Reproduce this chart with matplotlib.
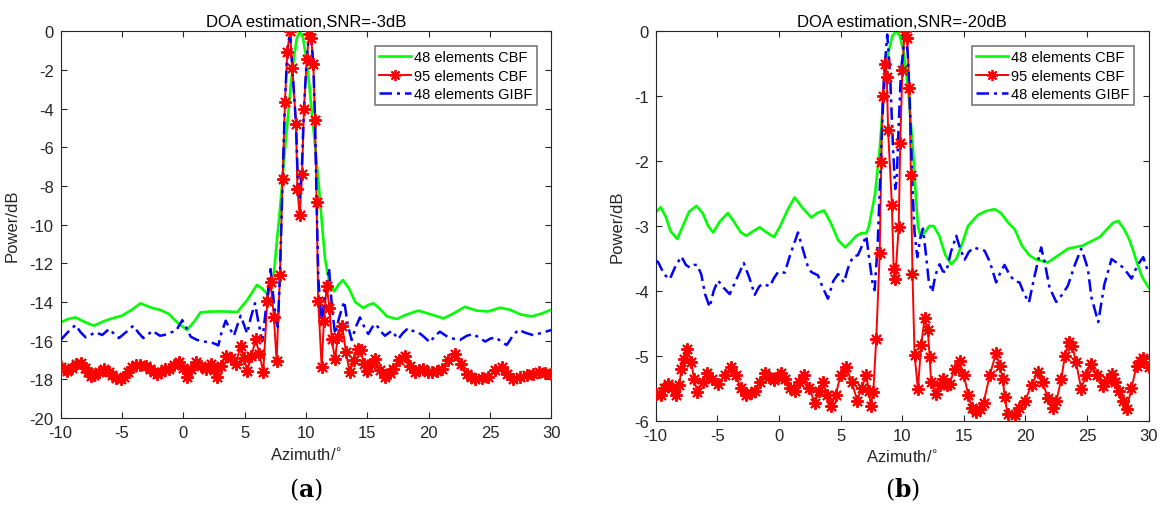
import matplotlib
matplotlib.use("Agg")
import matplotlib.pyplot as plt
from matplotlib.lines import Line2D

plt.rcParams['font.family'] = ['Liberation Sans', 'DejaVu Sans']
plt.rcParams['axes.unicode_minus'] = False

# ---------------- SNR = -3 dB ----------------
cbf48_az_a = [-10, -9.4, -8.8, -8.0, -7.3, -6.5, -5.8, -5.0, -4.2, -3.5,
              -2.6, -1.85, -1.2, -0.5, 0.3, 0.9, 1.4, 2.2, 3.0, 3.7,
              4.4, 5.2, 6.0, 6.4, 6.85, 7.1, 7.35, 7.6, 7.8, 8.0,
              8.25, 8.5, 8.75, 9.0, 9.25, 9.5, 9.75, 10.0, 10.25, 10.5,
              10.75, 11.05, 11.3, 11.55, 11.9, 12.3, 12.65, 13.0, 13.5, 14.0,
              14.65, 15.1, 15.5, 16.0, 16.6, 17.4, 18.2, 19.15, 20.2, 21.2,
              22.0, 22.95, 23.9, 24.85, 25.8, 26.6, 27.5, 28.4, 29.2, 30.0]
cbf48_db_a = [-15.06, -14.88, -14.80, -15.05, -15.23, -15.0, -14.85, -14.71, -14.4, -14.07,
              -14.3, -14.42, -14.62, -15.06, -15.45, -15.0, -14.54, -14.5, -14.49, -14.5,
              -14.52, -13.9, -13.12, -13.3, -13.59, -13.3, -12.7, -11.0, -9.7, -8.3,
              -6.3, -4.6, -2.8, -1.4, -0.35, 0.0, -0.35, -1.3, -2.7, -4.4,
              -6.0, -8.05, -10.0, -11.8, -13.0, -13.45, -13.1, -12.87, -13.3, -14.0,
              -14.31, -14.15, -14.07, -14.35, -14.75, -14.88, -14.65, -14.45, -14.65, -14.85,
              -14.6, -14.25, -14.45, -14.49, -14.3, -14.4, -14.65, -14.75, -14.6, -14.4]

cbf95_az_a = [-10.0, -9.7, -9.45, -9.1, -8.75, -8.37, -8.0, -7.8, -7.56, -7.25,
              -6.9, -6.47, -6.1, -5.8, -5.45, -5.11, -4.8, -4.5, -4.2, -3.89,
              -3.5, -3.07, -2.7, -2.4, -2.13, -1.8, -1.5, -1.17, -0.75, -0.36,
              0.0, 0.32, 0.65, 1.0, 1.4, 1.82, 2.22, 2.5, 2.76, 3.1,
              3.45, 3.85, 4.26, 4.67, 4.95, 5.21, 5.55, 5.89, 6.2, 6.51,
              6.84, 7.11, 7.38, 7.6, 7.87, 8.09, 8.28, 8.47, 8.69, 8.88,
              9.18, 9.29, 9.48, 9.67, 9.83, 10.05, 10.26, 10.42, 10.59, 10.73,
              10.86, 10.99, 11.27, 11.45, 11.68, 11.9, 12.09, 12.35, 12.6, 12.95,
              13.25, 13.55, 13.9, 14.2, 14.45, 14.7, 14.94, 15.3, 15.62, 16.0,
              16.43, 16.8, 17.11, 17.6, 18.06, 18.5, 18.88, 19.2, 19.55, 19.9,
              20.24, 20.65, 21.05, 21.6, 22.14, 22.6, 23.09, 23.45, 23.77, 24.3,
              24.85, 25.4, 25.94, 26.4, 26.89, 27.4, 28.0, 28.52, 29.0, 29.5,
              30.0]
cbf95_db_a = [-17.38, -17.45, -17.56, -17.4, -17.22, -17.18, -17.4, -17.65, -17.82, -17.78,
              -17.6, -17.47, -17.6, -17.8, -17.95, -17.99, -17.9, -17.6, -17.35, -17.26,
              -17.24, -17.3, -17.45, -17.65, -17.73, -17.6, -17.45, -17.45, -17.25, -17.12,
              -17.4, -17.9, -17.45, -17.12, -17.3, -17.47, -17.21, -17.5, -17.9, -17.3,
              -16.78, -16.9, -17.21, -16.26, -16.9, -17.56, -16.8, -15.92, -16.7, -17.64,
              -13.94, -12.99, -14.8, -17.05, -12.62, -7.62, -3.66, -1.07, 0.0, -1.88,
              -4.78, -8.14, -9.52, -7.37, -4.0, -1.45, -0.12, -0.35, -1.68, -4.6,
              -8.83, -13.94, -17.38, -15.0, -13.16, -14.3, -15.92, -16.95, -15.8, -15.23,
              -16.6, -17.64, -17.0, -16.45, -16.5, -17.2, -17.56, -17.2, -16.95, -17.5,
              -17.9, -17.7, -17.47, -17.0, -16.78, -17.3, -17.64, -17.5, -17.47, -17.6,
              -17.64, -17.55, -17.47, -17.0, -16.69, -17.2, -17.73, -17.9, -17.99, -17.95,
              -17.9, -17.5, -17.38, -17.75, -17.99, -17.9, -17.8, -17.72, -17.65, -17.7,
              -17.72]

gibf48_az_a = [-10, -9.4, -8.78, -8.4, -7.97, -7.55, -7.15, -6.61, -6.06, -5.65,
               -5.25, -4.65, -4.08, -3.65, -3.27, -2.9, -2.53, -1.91, -1.5, -1.17,
               -0.6, -0.09, 0.3, 0.6, 1.13, 1.5, 1.95, 2.3, 2.63, 2.85,
               3.1, 3.45, 3.8, 4.12, 4.4, 4.67, 4.95, 5.2, 5.5, 5.84,
               6.1, 6.43, 6.7, 7.11, 7.4, 7.7, 7.87, 8.09, 8.28, 8.47,
               8.69, 8.88, 9.18, 9.32, 9.48, 9.65, 9.83, 10.05, 10.26, 10.42,
               10.59, 10.73, 10.86, 11.0, 11.27, 11.55, 11.87, 12.1, 12.36, 12.7,
               13.11, 13.4, 13.72, 14.05, 14.39, 14.75, 15.07, 15.4, 15.7, 16.05,
               16.43, 16.98, 17.51, 17.9, 18.33, 18.7, 19.15, 19.6, 20.1, 20.5,
               20.91, 21.59, 22.0, 22.54, 23.1, 23.63, 24.1, 24.6, 25.0, 25.45,
               25.9, 26.35, 26.8, 27.29, 27.9, 28.52, 29.2, 30.0]
gibf48_db_a = [-15.97, -15.55, -15.19, -15.55, -15.83, -15.7, -15.57, -15.71, -15.40, -15.65,
               -15.87, -15.55, -15.23, -15.6, -15.87, -15.7, -15.49, -15.75, -15.7, -15.6,
               -15.5, -14.94, -15.4, -15.80, -15.97, -16.0, -16.09, -16.1, -16.18, -16.25,
               -15.6, -14.97, -15.4, -15.75, -15.2, -14.71, -15.2, -15.63, -14.8, -14.07,
               -15.0, -16.04, -14.5, -12.30, -14.2, -15.3, -12.62, -7.62, -3.66, -1.07,
               0.0, -1.88, -4.78, -7.5, -8.7, -7.2, -4.0, -1.45, 0.0, -0.35,
               -1.68, -4.6, -8.83, -12.8, -15.14, -13.5, -12.25, -14.2, -15.66, -14.8,
               -13.97, -15.2, -15.97, -15.3, -14.80, -15.3, -15.66, -15.3, -15.14, -15.5,
               -15.75, -15.49, -15.92, -15.6, -15.35, -15.5, -15.57, -15.8, -16.09, -15.75,
               -15.54, -15.83, -15.9, -15.97, -15.75, -15.66, -15.85, -16.05, -15.9, -15.83,
               -16.05, -16.23, -15.8, -15.44, -15.6, -15.72, -15.6, -15.45]

# ---------------- SNR = -20 dB ----------------
cbf48_az_b = [-10, -9.6, -9.2, -8.8, -8.25, -7.8, -7.3, -6.7, -6.2, -5.75,
              -5.35, -4.8, -4.15, -3.6, -3.1, -2.65, -2.1, -1.57, -1.0, -0.41,
              0.1, 0.7, 1.27, 1.9, 2.62, 3.1, 3.65, 4.2, 4.8, 5.38,
              5.8, 6.27, 6.7, 7.08, 7.3, 7.55, 7.8, 8.17, 8.5, 8.85,
              9.2, 9.5, 9.8, 10.15, 10.5, 10.87, 11.05, 11.27, 11.5, 11.9,
              12.2, 12.55, 13.0, 13.5, 13.97, 14.4, 14.9, 15.33, 16.14, 16.8,
              17.49, 18.0, 18.6, 19.12, 19.7, 20.3, 20.9, 21.82, 22.3, 22.9,
              23.44, 24.2, 24.68, 25.06, 25.5, 26.03, 26.6, 27.1, 27.52, 28.0,
              28.4, 28.74, 29.1, 29.5, 30.0]
cbf48_db_b = [-2.79, -2.71, -2.85, -3.08, -3.20, -3.0, -2.78, -2.69, -2.8, -3.0,
              -3.10, -2.93, -2.80, -2.95, -3.1, -3.15, -3.08, -3.02, -3.1, -3.17,
              -3.0, -2.75, -2.56, -2.72, -2.87, -2.8, -2.76, -2.95, -3.22, -3.33,
              -3.25, -3.15, -3.11, -3.11, -3.0, -2.75, -2.5, -1.81, -0.95, -0.35,
              -0.07, 0.0, -0.07, -0.35, -0.95, -1.81, -2.4, -3.0, -3.17, -3.08,
              -3.0, -3.0, -3.15, -3.45, -3.59, -3.5, -3.25, -3.0, -2.83, -2.77,
              -2.74, -2.8, -2.95, -3.05, -3.3, -3.45, -3.52, -3.56, -3.5, -3.42,
              -3.35, -3.32, -3.30, -3.26, -3.22, -3.17, -3.05, -2.95, -2.92, -3.05,
              -3.2, -3.38, -3.6, -3.8, -3.95]

cbf95_az_b = [-10.0, -9.6, -9.3, -9.0, -8.65, -8.33, -8.1, -7.92, -7.7, -7.43,
              -7.11, -6.9, -6.63, -6.2, -5.81, -5.4, -4.95, -4.4, -3.87, -3.5,
              -3.1, -2.65, -2.3, -1.97, -1.55, -1.16, -0.8, -0.41, -0.1, 0.19,
              0.5, 0.9, 1.27, 1.65, 2.03, 2.45, 2.9, 3.25, 3.57, 3.9,
              4.24, 4.6, 5.0, 5.46, 5.9, 6.35, 6.7, 7.08, 7.3, 7.44,
              7.65, 7.89, 8.17, 8.3, 8.4, 8.63, 8.75, 8.85, 9.16, 9.3,
              9.43, 9.71, 9.84, 10.01, 10.19, 10.4, 10.58, 10.7, 10.83, 11.0,
              11.27, 11.54, 11.82, 12.08, 12.22, 12.35, 12.76, 13.05, 13.3, 13.6,
              13.84, 14.25, 14.65, 15.0, 15.35, 15.65, 16.0, 16.3, 16.6, 17.1,
              17.62, 17.9, 18.17, 18.3, 18.57, 19.12, 19.5, 19.93, 20.5, 21.0,
              21.4, 21.8, 22.2, 22.5, 22.9, 23.2, 23.5, 23.8, 24.1, 24.52,
              24.9, 25.3, 25.8, 26.3, 26.65, 26.98, 27.3, 27.6, 27.9, 28.2,
              28.6, 29.01, 29.3, 29.55, 30.0]
cbf95_db_b = [-5.59, -5.61, -5.5, -5.43, -5.5, -5.61, -5.45, -5.21, -5.05, -4.90,
              -5.10, -5.35, -5.56, -5.4, -5.27, -5.35, -5.43, -5.3, -5.18, -5.3,
              -5.5, -5.61, -5.58, -5.55, -5.4, -5.27, -5.32, -5.38, -5.32, -5.27,
              -5.35, -5.5, -5.55, -5.4, -5.29, -5.5, -5.72, -5.55, -5.40, -5.6,
              -5.77, -5.6, -5.3, -5.18, -5.4, -5.69, -5.5, -5.29, -5.55, -5.77,
              -5.56, -4.74, -3.42, -2.02, -0.99, -0.5, -0.71, -1.52, -2.68, -3.66,
              -3.82, -3.02, -1.72, -0.59, 0.0, -0.11, -0.88, -2.21, -3.74, -4.99,
              -5.51, -4.83, -4.41, -4.61, -5.02, -5.41, -5.59, -5.45, -5.36, -5.45,
              -5.43, -5.2, -5.08, -5.3, -5.6, -5.8, -5.87, -5.82, -5.72, -5.3,
              -4.95, -5.15, -5.36, -5.64, -5.90, -5.91, -5.8, -5.70, -5.45, -5.25,
              -5.4, -5.65, -5.8, -5.7, -5.36, -5.0, -4.79, -4.85, -5.1, -5.51,
              -5.3, -5.13, -5.3, -5.46, -5.38, -5.28, -5.4, -5.55, -5.7, -5.82,
              -5.5, -5.15, -5.08, -5.04, -5.18]

gibf48_az_b = [-10, -9.8, -9.3, -8.86, -8.4, -7.92, -7.55, -7.24, -6.9, -6.63,
               -6.3, -6.0, -5.62, -5.3, -4.95, -4.5, -4.0, -3.4, -2.86, -2.4,
               -1.97, -1.6, -1.3, -0.75, -0.4, -0.08, 0.46, 0.9, 1.54, 2.0,
               2.3, 2.62, 3.16, 3.55, 3.97, 4.4, 4.79, 5.27, 5.6, 6.0,
               6.4, 6.75, 7.08, 7.35, 7.62, 7.76, 8.0, 8.3, 8.55, 8.78,
               9.0, 9.25, 9.43, 9.55, 9.7, 9.9, 10.25, 10.45, 10.6, 10.73,
               10.85, 11.0, 11.22, 11.45, 11.68, 11.9, 12.15, 12.43, 12.7, 13.03,
               13.3, 13.57, 13.95, 14.38, 14.7, 15.06, 15.4, 15.81, 16.25, 16.68,
               17.1, 17.62, 18.0, 18.3, 18.7, 19.12, 19.52, 19.9, 20.28, 20.7,
               21.27, 21.6, 21.95, 22.49, 23.0, 23.44, 24.0, 24.52, 24.8, 25.06,
               25.35, 25.9, 26.4, 26.98, 27.5, 27.92, 28.25, 28.6, 29.1, 29.55,
               30.0]
gibf48_db_b = [-3.53, -3.56, -3.75, -3.82, -3.62, -3.47, -3.6, -3.64, -3.6, -3.60,
               -3.75, -4.05, -4.25, -4.0, -3.84, -3.95, -4.05, -3.8, -3.57, -3.8,
               -4.06, -3.93, -3.89, -3.93, -3.8, -3.71, -3.72, -3.45, -3.10, -3.4,
               -3.6, -3.71, -3.76, -3.95, -4.12, -3.85, -3.74, -3.87, -3.65, -3.47,
               -3.45, -3.3, -3.15, -3.55, -3.92, -3.99, -3.3, -1.8, -0.6, -0.05,
               -0.6, -1.8, -2.43, -2.3, -1.5, -0.6, 0.0, -0.35, -1.0, -1.81,
               -2.5, -3.10, -3.48, -3.2, -3.04, -3.4, -3.85, -4.02, -3.75, -3.59,
               -3.7, -3.71, -3.4, -3.15, -3.35, -3.52, -3.4, -3.33, -3.36, -3.38,
               -3.55, -3.87, -3.7, -3.60, -3.75, -3.85, -3.87, -4.05, -4.18, -3.8,
               -3.33, -3.6, -3.95, -4.17, -4.05, -3.92, -3.6, -3.35, -3.5, -3.66,
               -4.1, -4.48, -3.9, -3.51, -3.58, -3.64, -3.72, -3.81, -3.6, -3.48,
               -3.74]

labels = ['48 elements CBF', '95 elements CBF', '48 elements GIBF']
green, red, blue = '#00ff00', '#ff0000', '#0000ff'
axis_col = '#262626'
star = (8, 2, 0)   # eight-armed asterisk
gibf_dash = (5.0, 2.0, 1.2, 2.0)


def draw_panel(ax, title, green_xy, red_xy, blue_xy, ylim, yticks):
    ax.plot(*green_xy, color=green, lw=1.9, zorder=2)
    ax.plot(*red_xy, color=red, lw=1.4, zorder=3)
    ax.plot(*blue_xy, color=blue, lw=1.8, dashes=gibf_dash, zorder=4)
    # asterisks sit on top of every curve
    ax.plot(*red_xy, ls='none', marker=star, ms=9, mew=1.4, color=red, zorder=5)

    ax.set_xlim(-10, 30)
    ax.set_ylim(*ylim)
    ax.set_xticks(range(-10, 31, 5))
    ax.set_yticks(yticks)
    ax.set_title(title, fontsize=12, pad=4, color='black')
    ax.set_xlabel('Azimuth/$^{\\circ}$', fontsize=12, labelpad=4, color=axis_col)
    ax.set_ylabel('Power/dB', fontsize=12, labelpad=7, color=axis_col)
    ax.tick_params(direction='in', top=True, right=True, length=4.5, width=0.8,
                   labelsize=12, colors=axis_col, pad=5)
    for sp in ax.spines.values():
        sp.set_linewidth(0.8)
        sp.set_color(axis_col)

    handles = [
        Line2D([], [], color=green, lw=1.9),
        Line2D([], [], color=red, lw=1.4, marker=star, ms=8, mew=1.3),
        Line2D([], [], color=blue, lw=1.8, dashes=gibf_dash),
    ]
    leg = ax.legend(handles, labels, loc='upper right', fontsize=10.5, numpoints=1,
                    fancybox=False, framealpha=1, edgecolor='#7a7a7a',
                    borderaxespad=1.0, borderpad=0.3, handlelength=2.2,
                    handletextpad=0.2, labelspacing=0.3)
    leg.get_frame().set_linewidth(1.2)


fig = plt.figure(figsize=(11.6, 5.06), dpi=100)
ax_a = fig.add_axes([0.0523, 0.1721, 0.4231, 0.7640])
ax_b = fig.add_axes([0.5653, 0.1666, 0.4250, 0.7696])

draw_panel(ax_a, 'DOA estimation,SNR=-3dB',
           (cbf48_az_a, cbf48_db_a), (cbf95_az_a, cbf95_db_a), (gibf48_az_a, gibf48_db_a),
           (-20, 0), range(-20, 1, 2))
draw_panel(ax_b, 'DOA estimation,SNR=-20dB',
           (cbf48_az_b, cbf48_db_b), (cbf95_az_b, cbf95_db_b), (gibf48_az_b, gibf48_db_b),
           (-6, 0), range(-6, 1, 1))

for ax, tag in ((ax_a, 'a'), (ax_b, 'b')):
    box = ax.get_position()
    fig.text((box.x0 + box.x1) / 2, 1 - 490 / 506, '($\\mathbf{%s}$)' % tag,
             ha='center', va='center', fontsize=17, family='DejaVu Serif',
             math_fontfamily='dejavuserif')

fig.savefig('out.png', dpi=100, facecolor='white')
